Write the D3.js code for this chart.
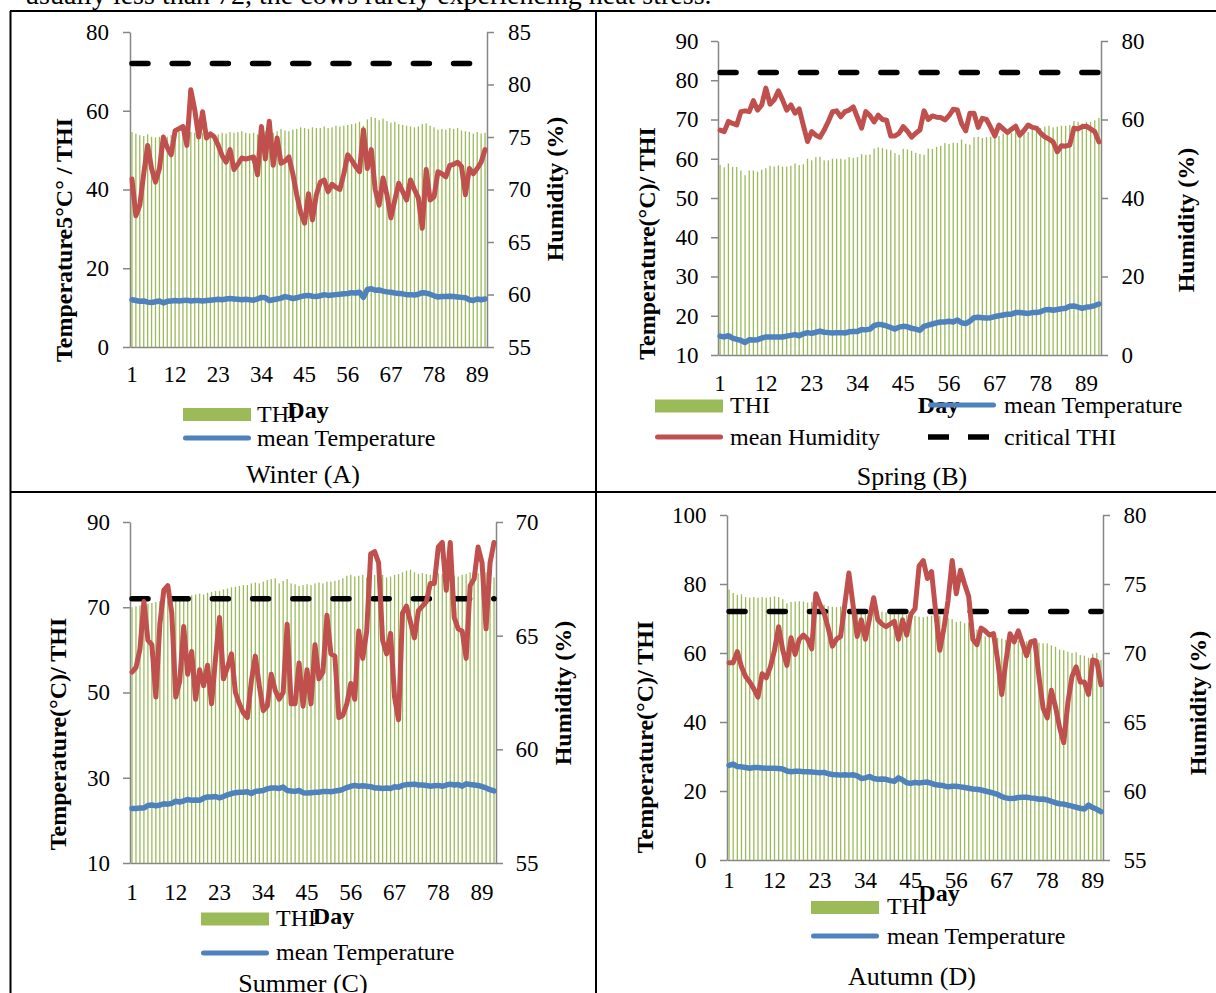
<!DOCTYPE html>
<html>
<head>
<meta charset="utf-8">
<script src="https://cdn.jsdelivr.net/npm/d3@7"></script>
<style>
body { margin: 0; background: #fff; }
svg { display: block; }
</style>
</head>
<body>
<script>
// Seasonal THI / temperature / humidity panels

// x axis tick labels (days) and the critical THI level
var dayTicks = [1, 12, 23, 34, 45, 56, 67, 78, 89];
var criticalTHI = 72;

// Winter (A)
var winterTHI = [54.6, 54.2, 53.8, 53.6, 54.0, 53.4, 53.2, 53.4, 53.6, 53.4,
    53.8, 54.4, 54.8, 54.8, 55.0, 54.6, 54.4, 54.2, 54.4, 54.2,
    54.0, 54.2, 54.0, 54.4, 54.2, 54.6, 54.4, 54.6, 54.8, 54.4,
    54.2, 54.4, 54.0, 55.0, 54.8, 54.2, 54.4, 54.8, 55.4, 55.0,
    54.8, 55.2, 55.4, 55.8, 55.6, 55.4, 55.8, 55.6, 55.6, 56.0,
    55.6, 55.8, 56.2, 56.0, 56.2, 56.4, 56.6, 56.8, 57.2, 56.2,
    57.8, 58.4, 58.2, 57.6, 58.0, 57.4, 57.0, 57.2, 56.6, 56.4,
    56.2, 56.0, 55.8, 56.0, 56.6, 56.8, 56.2, 55.8, 55.2, 55.4,
    55.2, 55.6, 55.4, 55.6, 55.0, 54.8, 54.6, 54.2, 54.6, 54.2,
    54.4];
var winterTemp = [12.0, 11.8, 11.6, 11.7, 11.4, 11.3, 11.5, 11.7, 11.2, 11.6,
    11.7, 11.8, 11.7, 11.8, 11.9, 11.7, 11.8, 11.8, 11.7, 11.8,
    11.9, 12.0, 12.1, 12.0, 12.2, 12.3, 12.2, 12.1, 12.0, 12.1,
    12.0, 11.9, 12.2, 12.6, 12.5, 11.8, 12.0, 12.2, 12.4, 12.8,
    12.6, 12.3, 12.5, 12.8, 13.0, 13.1, 12.9, 12.8, 13.0, 13.3,
    13.1, 13.2, 13.3, 13.4, 13.5, 13.6, 13.8, 13.7, 13.9, 12.6,
    14.6, 14.8, 14.4, 14.5, 14.2, 14.0, 13.9, 13.7, 13.6, 13.5,
    13.3, 13.3, 13.2, 13.4, 13.8, 13.7, 13.4, 13.0, 12.7, 12.8,
    12.8, 12.9, 12.8, 12.7, 12.6, 12.5, 12.0, 11.8, 12.2, 12.0,
    12.2];
var winterHum = [71.0, 67.5, 68.5, 71.5, 74.2, 72.0, 70.7, 72.0, 75.0, 74.0,
    73.3, 75.6, 75.8, 76.0, 74.2, 79.5, 77.6, 75.0, 77.4, 74.9,
    75.3, 75.0, 74.2, 73.2, 72.6, 73.8, 71.9, 72.4, 73.0, 72.9,
    73.0, 73.1, 71.4, 76.0, 72.9, 76.5, 72.3, 74.9, 72.5, 72.7,
    73.1, 71.5, 69.5, 67.8, 66.8, 69.6, 67.1, 69.5, 70.7, 70.9,
    69.8, 70.5, 70.2, 70.0, 71.5, 73.3, 72.8, 72.2, 71.7, 75.7,
    72.0, 73.8, 70.0, 68.5, 71.1, 69.5, 67.3, 69.0, 70.6, 69.8,
    69.0, 70.9, 70.0, 69.2, 66.3, 71.9, 69.0, 69.3, 71.7, 71.5,
    71.2, 72.3, 72.4, 72.6, 72.2, 69.5, 72.0, 71.5, 72.0, 72.6,
    73.8];
var winterLeftTicks = [0, 20, 40, 60, 80];
var winterRightTicks = [55, 60, 65, 70, 75, 80, 85];

// Spring (B)
var springTHI = [58.4, 57.8, 58.8, 57.9, 57.9, 57.0, 55.8, 57.0, 57.0, 56.7,
    57.2, 57.6, 58.2, 58.0, 58.3, 58.0, 58.0, 58.2, 58.8, 58.4,
    58.6, 60.0, 59.6, 60.4, 60.5, 59.6, 59.6, 60.0, 60.0, 60.0,
    59.8, 60.4, 60.2, 60.4, 61.2, 61.0, 61.1, 62.6, 62.9, 62.7,
    62.4, 62.2, 61.4, 61.0, 62.5, 62.4, 62.0, 61.5, 61.2, 61.0,
    62.6, 62.5, 63.0, 63.3, 64.0, 63.8, 64.1, 64.0, 64.9, 63.8,
    63.6, 65.5, 65.6, 65.3, 65.5, 65.6, 66.0, 65.8, 66.4, 66.2,
    66.6, 67.0, 66.8, 67.2, 66.8, 67.4, 67.6, 67.8, 68.2, 68.4,
    68.0, 68.2, 68.4, 68.4, 68.6, 69.6, 69.4, 69.0, 69.4, 69.4,
    69.8, 70.4];
var springTemp = [14.8, 14.6, 14.9, 14.3, 14.0, 13.7, 13.2, 13.9, 13.8, 13.9,
    14.3, 14.6, 14.6, 14.6, 14.6, 14.6, 14.8, 15.0, 15.2, 14.9,
    15.4, 15.7, 15.5, 15.8, 16.1, 15.8, 15.7, 15.6, 15.7, 15.7,
    15.6, 15.9, 16.0, 16.0, 16.5, 16.4, 16.6, 17.5, 17.8, 17.7,
    17.4, 17.0, 16.6, 17.1, 17.3, 17.2, 16.8, 16.6, 16.3, 17.3,
    17.6, 17.9, 18.2, 18.4, 18.4, 18.6, 18.4, 18.9, 18.2, 18.0,
    18.6, 19.5, 19.6, 19.5, 19.4, 19.5, 19.8, 20.0, 20.2, 20.4,
    20.4, 20.8, 20.8, 20.7, 20.6, 20.8, 20.8, 21.0, 21.5, 21.6,
    21.4, 21.6, 21.8, 21.9, 22.4, 22.5, 22.2, 21.9, 22.2, 22.3,
    22.6, 23.0];
var springHum = [57.3, 56.9, 59.5, 59.0, 58.6, 62.0, 62.2, 62.0, 64.8, 62.4,
    63.7, 68.0, 63.9, 65.0, 67.3, 65.0, 62.4, 63.7, 61.6, 62.7,
    58.5, 54.4, 56.9, 56.0, 55.5, 57.3, 59.5, 62.0, 62.2, 60.7,
    62.0, 62.4, 63.2, 60.5, 57.8, 62.0, 61.0, 59.4, 61.1, 60.0,
    59.8, 55.8, 55.8, 56.5, 58.2, 57.0, 55.5, 56.5, 57.3, 62.2,
    60.0, 60.9, 60.6, 60.5, 59.9, 61.0, 62.6, 62.4, 59.0, 57.1,
    61.6, 61.6, 58.0, 60.3, 60.0, 58.0, 55.8, 58.6, 57.6, 56.7,
    57.5, 58.3, 56.0, 57.2, 58.6, 58.0, 57.8, 56.5, 55.6, 55.0,
    54.3, 51.8, 53.3, 53.2, 53.5, 57.8, 57.6, 58.2, 58.3, 57.6,
    56.9, 54.3];
var springLeftTicks = [10, 20, 30, 40, 50, 60, 70, 80, 90];
var springRightTicks = [0, 20, 40, 60, 80];

// Summer (C)
var summerTHI = [70.0, 70.2, 70.4, 70.6, 70.8, 71.0, 71.2, 71.4, 71.6, 71.6,
    71.8, 72.0, 72.2, 72.6, 72.4, 72.8, 73.0, 73.2, 73.0, 73.4,
    73.6, 73.8, 73.8, 74.2, 74.4, 74.7, 74.8, 75.0, 75.2, 75.2,
    75.6, 75.8, 75.6, 76.0, 76.4, 76.6, 76.8, 75.6, 76.2, 76.6,
    75.6, 75.4, 75.0, 75.2, 75.4, 75.2, 75.6, 75.8, 75.6, 76.0,
    76.0, 76.2, 76.4, 76.8, 77.4, 77.6, 77.2, 77.4, 77.6, 77.0,
    77.2, 77.6, 77.4, 77.6, 77.0, 77.2, 77.6, 77.8, 78.2, 78.6,
    78.8, 78.2, 77.8, 78.0, 77.8, 77.6, 77.8, 78.0, 77.8, 78.2,
    78.0, 77.4, 77.2, 77.6, 77.8, 78.2, 78.4, 78.0, 77.8, 78.2,
    77.6, 77.0];
var summerTemp = [22.8, 22.8, 22.9, 22.9, 23.5, 23.6, 23.4, 23.6, 23.9, 23.8,
    24.0, 24.5, 24.3, 24.6, 24.9, 24.7, 24.8, 24.7, 25.2, 25.5,
    25.5, 25.6, 25.3, 25.6, 26.0, 26.3, 26.5, 26.6, 26.6, 26.7,
    26.3, 26.8, 26.9, 27.0, 27.4, 27.6, 27.6, 27.5, 27.8, 27.0,
    26.9, 26.8, 27.0, 26.5, 26.4, 26.5, 26.6, 26.6, 26.8, 26.8,
    26.7, 26.9, 27.0, 27.3, 27.7, 28.0, 28.2, 28.0, 28.1, 28.0,
    27.9, 27.6, 27.6, 27.5, 27.6, 27.5, 27.9, 27.8, 28.2, 28.4,
    28.4, 28.5, 28.3, 28.3, 28.2, 28.0, 28.1, 28.2, 28.0, 28.3,
    28.5, 28.3, 28.4, 28.0, 28.6, 28.4, 28.3, 28.2, 27.9, 27.6,
    27.2, 26.9];
var summerHum = [63.4, 63.6, 64.4, 66.5, 64.8, 64.6, 62.3, 65.5, 67.0, 67.2,
    66.0, 62.3, 63.0, 65.4, 63.3, 64.3, 62.2, 63.5, 62.8, 63.7,
    62.0, 64.0, 65.8, 63.1, 63.6, 64.2, 62.5, 62.0, 61.6, 61.4,
    63.0, 64.1, 62.8, 61.7, 61.9, 63.3, 62.6, 62.2, 62.5, 65.5,
    62.0, 62.0, 63.8, 61.9, 63.5, 62.0, 64.6, 63.1, 63.4, 65.9,
    64.2, 64.1, 61.4, 61.5, 62.0, 62.9, 62.2, 65.2, 64.0, 65.2,
    68.6, 68.7, 68.2, 64.8, 64.2, 65.1, 62.3, 61.3, 66.0, 66.3,
    65.6, 64.9, 66.1, 66.3, 66.5, 67.3, 67.3, 68.9, 69.1, 67.0,
    69.1, 65.8, 65.3, 65.2, 64.0, 67.2, 67.5, 68.9, 68.2, 65.3,
    68.2, 69.1];
var summerLeftTicks = [10, 30, 50, 70, 90];
var summerRightTicks = [55, 60, 65, 70];

// Autumn (D)
var autumnTHI = [78.4, 77.4, 76.8, 77.0, 76.2, 76.0, 76.2, 76.0, 76.2, 76.0,
    76.2, 76.4, 76.2, 75.6, 74.4, 74.8, 74.9, 75.0, 74.9, 74.6,
    74.8, 74.3, 74.4, 74.0, 73.6, 73.4, 73.3, 73.5, 73.0, 72.8,
    72.4, 72.2, 72.4, 72.2, 72.0, 72.4, 72.2, 72.0, 71.8, 71.6,
    71.5, 71.4, 71.6, 71.0, 71.2, 70.8, 70.5, 70.4, 70.6, 70.8,
    70.6, 70.8, 70.0, 70.2, 69.8, 69.0, 69.2, 68.6, 68.8, 68.6,
    66.8, 66.0, 64.8, 64.6, 64.8, 64.4, 64.2, 63.8, 63.6, 63.8,
    63.6, 63.6, 63.4, 63.6, 63.2, 63.0, 62.8, 62.8, 62.2, 61.8,
    61.0, 60.8, 60.4, 60.0, 60.2, 59.4, 59.2, 58.6, 59.8, 60.0,
    58.0];
var autumnTemp = [27.4, 27.8, 27.1, 27.0, 26.8, 26.6, 26.8, 26.8, 26.7, 26.6,
    26.6, 26.6, 26.5, 26.4, 25.8, 25.6, 25.7, 25.7, 25.6, 25.6,
    25.5, 25.4, 25.3, 25.4, 25.0, 24.8, 24.7, 24.6, 24.7, 24.6,
    24.7, 24.4, 23.6, 23.8, 24.2, 23.6, 23.4, 23.5, 23.4, 23.0,
    22.8, 23.8, 23.2, 22.4, 22.2, 22.5, 22.3, 22.5, 22.6, 22.2,
    21.8, 21.7, 21.5, 21.2, 21.4, 21.4, 21.2, 21.0, 20.8, 20.6,
    20.5, 20.3, 20.0, 19.7, 19.4, 19.0, 18.4, 18.0, 17.8, 17.9,
    18.1, 18.2, 18.2, 18.0, 17.9, 17.6, 17.7, 17.4, 17.0, 16.6,
    16.3, 16.2, 15.9, 15.6, 15.3, 15.0, 14.8, 15.9, 15.2, 14.7,
    14.0];
var autumnHum = [69.3, 69.3, 70.1, 69.0, 68.3, 67.9, 67.4, 66.8, 68.5, 68.2,
    69.0, 70.2, 71.9, 70.2, 69.1, 71.1, 69.9, 71.0, 71.3, 71.0,
    70.3, 74.3, 73.5, 72.9, 71.8, 70.5, 71.0, 71.2, 73.5, 75.8,
    73.5, 71.2, 72.4, 71.0, 72.5, 74.0, 72.4, 72.1, 71.9, 72.1,
    72.3, 71.0, 72.4, 71.3, 72.8, 73.2, 76.3, 76.7, 75.4, 75.9,
    73.0, 70.2, 71.8, 73.8, 76.7, 74.3, 76.0, 75.0, 74.1, 71.0,
    70.6, 71.8, 71.6, 71.3, 71.4, 69.5, 67.0, 69.4, 71.4, 70.8,
    71.6, 70.7, 69.8, 70.8, 70.9, 68.3, 66.0, 65.3, 67.3, 66.1,
    64.6, 63.5, 66.4, 68.3, 69.0, 67.9, 67.9, 67.0, 69.5, 69.4,
    67.7];
var autumnLeftTicks = [0, 20, 40, 60, 80, 100];
var autumnRightTicks = [55, 60, 65, 70, 75, 80];

// text
var legendNames = { thi: 'THI', temp: 'mean Temperature', hum: 'mean Humidity', crit: 'critical THI' };
var colors = { thi: '#9bbb59', temp: '#4f81bd', hum: '#c0504d', crit: '#000000', axis: '#868686' };

// critAxis: which axis the critical THI series is plotted on in each panel
var panels = [
    { name: 'Winter (A)', thi: winterTHI, temp: winterTemp, hum: winterHum, critAxis: 'left',
      leftTicks: winterLeftTicks, rightTicks: winterRightTicks, yTitle: 'Temperature5°C° / THI',
      left: 130, right: 487, top: 32, bottom: 347, xPad: 18.7, lPad: 14, rPad: 14,
      yTitlePos: [64, 240], hTitlePos: [555, 189], dayPos: [308, 418], captionPos: [303, 483],
      legend: [ { key: 'thi', sx: 183, sy: 414.5, tx: 257, ty: 422 },
                { key: 'temp', sx: 183, sy: 438, tx: 257, ty: 446 } ] },
    { name: 'Spring (B)', thi: springTHI, temp: springTemp, hum: springHum, critAxis: 'right',
      leftTicks: springLeftTicks, rightTicks: springRightTicks, yTitle: 'Temperature(°C)/ THI',
      left: 718, right: 1101, top: 41, bottom: 355, xPad: 19.7, lPad: 12.5, rPad: 13.5,
      yTitlePos: [647, 243.5], hTitlePos: [1186, 220], dayPos: [938.5, 413], captionPos: [912, 485],
      legend: [ { key: 'thi', sx: 655, sy: 406, tx: 730, ty: 413 },
                { key: 'temp', sx: 928, sy: 405, tx: 1004, ty: 413 },
                { key: 'hum', sx: 655, sy: 437, tx: 730, ty: 445 },
                { key: 'crit', sx: 928, sy: 437, tx: 1004, ty: 445 } ] },
    { name: 'Summer (C)', thi: summerTHI, temp: summerTemp, hum: summerHum, critAxis: 'left',
      leftTicks: summerLeftTicks, rightTicks: summerRightTicks, yTitle: 'Temperature(°C)/ THI',
      left: 130, right: 496, top: 522, bottom: 863, xPad: 20.7, lPad: 13, rPad: 12.5,
      yTitlePos: [58, 734], hTitlePos: [563, 693], dayPos: [333.5, 924], captionPos: [303, 992],
      legend: [ { key: 'thi', sx: 201, sy: 919, tx: 276, ty: 926 },
                { key: 'temp', sx: 201, sy: 953, tx: 276, ty: 960 } ] },
    { name: 'Autumn (D)', thi: autumnTHI, temp: autumnTemp, hum: autumnHum, critAxis: 'left',
      leftTicks: autumnLeftTicks, rightTicks: autumnRightTicks, yTitle: 'Temperature(°C)/ THI',
      left: 727, right: 1103, top: 515, bottom: 860, xPad: 11.7, lPad: 13.5, rPad: 13.5,
      yTitlePos: [645, 737], hTitlePos: [1198, 703], dayPos: [939, 901], captionPos: [912, 985],
      legend: [ { key: 'thi', sx: 811, sy: 907.5, tx: 887, ty: 914 },
                { key: 'temp', sx: 811, sy: 936, tx: 887, ty: 944 } ] }
];

var svg = d3.select('body').append('svg')
    .attr('width', 1216)
    .attr('height', 993)
    .style('font-family', '"Liberation Serif", "Times New Roman", serif');

svg.append('rect').attr('width', 1216).attr('height', 993).attr('fill', '#fff');

// line of body text cut by the top of the picture
svg.append('text')
    .attr('x', 25).attr('y', 4)
    .attr('font-size', 28)
    .text('usually less than 72, the cows rarely experiencing heat stress.');

// table rules
var rules = [[10, 11, 1216, 11], [10.5, 11, 10.5, 993], [596, 11, 596, 993], [10, 492, 1216, 492]];
svg.selectAll('line.rule').data(rules).enter().append('line')
    .attr('class', 'rule')
    .attr('x1', function(r) { return r[0]; })
    .attr('y1', function(r) { return r[1]; })
    .attr('x2', function(r) { return r[2]; })
    .attr('y2', function(r) { return r[3]; })
    .attr('stroke', '#000')
    .attr('stroke-width', 2);

function styleAxis(sel) {
    sel.attr('font-family', null).attr('font-size', 23);
    sel.select('.domain').attr('stroke', colors.axis).attr('stroke-width', 1.5);
    sel.selectAll('.tick line').attr('stroke', colors.axis).attr('stroke-width', 1.5);
    sel.selectAll('.tick text').attr('fill', '#000');
}

panels.forEach(drawPanel);

function drawPanel(p) {
    var n = p.thi.length;
    var days = d3.range(1, n + 1);
    var g = svg.append('g');

    var x = d3.scaleBand().domain(days).range([p.left, p.right]);
    var cx = function(d) { return x(d) + x.bandwidth() / 2; };
    var yL = d3.scaleLinear().domain(d3.extent(p.leftTicks)).range([p.bottom, p.top]);
    var yR = d3.scaleLinear().domain(d3.extent(p.rightTicks)).range([p.bottom, p.top]);
    var yC = p.critAxis === 'right' ? yR : yL;

    // axes
    g.append('g')
        .attr('transform', 'translate(' + p.left + ',0)')
        .call(d3.axisLeft(yL).tickValues(p.leftTicks).tickSize(7).tickSizeOuter(0).tickPadding(p.lPad))
        .call(styleAxis);
    g.append('g')
        .attr('transform', 'translate(' + p.right + ',0)')
        .call(d3.axisRight(yR).tickValues(p.rightTicks).tickSize(7).tickSizeOuter(0).tickPadding(p.rPad))
        .call(styleAxis);
    g.append('g')
        .attr('transform', 'translate(0,' + p.bottom + ')')
        .call(d3.axisBottom(x).tickValues(dayTicks).tickSize(0).tickSizeOuter(0).tickPadding(p.xPad))
        .call(styleAxis);

    // THI bars
    g.selectAll('rect.bar').data(p.thi).enter().append('rect')
        .attr('class', 'bar')
        .attr('x', function(v, i) { return cx(i + 1) - 0.65; })
        .attr('width', 1.3)
        .attr('y', function(v) { return yL(v); })
        .attr('height', function(v) { return yL(p.leftTicks[0]) - yL(v); })
        .attr('fill', colors.thi);

    // mean temperature
    g.append('path')
        .datum(p.temp)
        .attr('d', d3.line().x(function(v, i) { return cx(i + 1); }).y(function(v) { return yL(v); }))
        .attr('fill', 'none')
        .attr('stroke', colors.temp)
        .attr('stroke-width', 5.5)
        .attr('stroke-linejoin', 'round')
        .attr('stroke-linecap', 'round');

    // critical THI
    var crit = days.map(function() { return criticalTHI; });
    g.append('path')
        .datum(crit)
        .attr('d', d3.line().x(function(v, i) { return cx(i + 1); }).y(function(v) { return yC(v); }))
        .attr('fill', 'none')
        .attr('stroke', colors.crit)
        .attr('stroke-width', 5.5)
        .attr('stroke-linecap', 'round')
        .attr('stroke-dasharray', '16,24.2');

    // mean humidity on the secondary axis
    g.append('path')
        .datum(p.hum)
        .attr('d', d3.line().x(function(v, i) { return cx(i + 1); }).y(function(v) { return yR(v); }))
        .attr('fill', 'none')
        .attr('stroke', colors.hum)
        .attr('stroke-width', 5)
        .attr('stroke-linejoin', 'round')
        .attr('stroke-linecap', 'round');

    // axis titles
    g.append('text')
        .attr('transform', 'translate(' + p.yTitlePos[0] + ',' + p.yTitlePos[1] + ') rotate(-90)')
        .attr('text-anchor', 'middle')
        .attr('dy', '0.35em')
        .attr('font-size', 24)
        .attr('font-weight', 'bold')
        .text(p.yTitle);
    g.append('text')
        .attr('transform', 'translate(' + p.hTitlePos[0] + ',' + p.hTitlePos[1] + ') rotate(-90)')
        .attr('text-anchor', 'middle')
        .attr('dy', '0.35em')
        .attr('font-size', 24)
        .attr('font-weight', 'bold')
        .text('Humidity (%)');
    g.append('text')
        .attr('x', p.dayPos[0]).attr('y', p.dayPos[1])
        .attr('text-anchor', 'middle')
        .attr('font-size', 24)
        .attr('font-weight', 'bold')
        .text('Day');

    // legend
    p.legend.forEach(function(item) {
        if (item.key === 'thi') {
            g.append('rect')
                .attr('x', item.sx).attr('y', item.sy - 6.5)
                .attr('width', 68).attr('height', 13)
                .attr('fill', colors.thi);
        } else if (item.key === 'crit') {
            g.append('line')
                .attr('x1', item.sx).attr('x2', item.sx + 68)
                .attr('y1', item.sy).attr('y2', item.sy)
                .attr('stroke', colors.crit)
                .attr('stroke-width', 5.5)
                .attr('stroke-dasharray', '21,19');
        } else {
            g.append('line')
                .attr('x1', item.sx + 2.5).attr('x2', item.sx + 65.5)
                .attr('y1', item.sy).attr('y2', item.sy)
                .attr('stroke', colors[item.key])
                .attr('stroke-width', 5)
                .attr('stroke-linecap', 'round');
        }
        g.append('text')
            .attr('x', item.tx).attr('y', item.ty)
            .attr('font-size', 24)
            .text(legendNames[item.key]);
    });

    // caption
    g.append('text')
        .attr('x', p.captionPos[0]).attr('y', p.captionPos[1])
        .attr('text-anchor', 'middle')
        .attr('font-size', 26)
        .text(p.name);
}
</script>
</body>
</html>
